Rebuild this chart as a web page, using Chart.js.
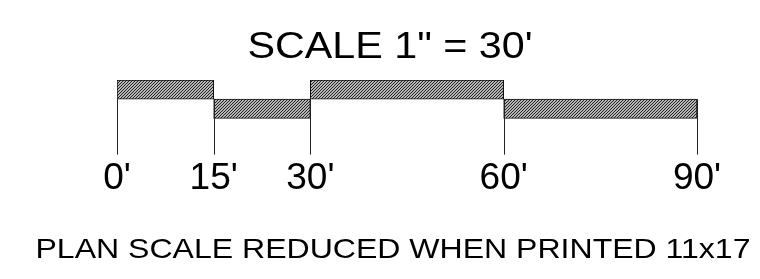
<!DOCTYPE html>
<html>
<head>
<meta charset="utf-8">
<script src="https://cdn.jsdelivr.net/npm/chart.js@4/dist/chart.umd.min.js"></script>
<style>
  html, body { margin: 0; padding: 0; background: #fff; overflow: hidden; }
  #wrap { position: relative; width: 760px; height: 279px; }
  .txt {
    position: absolute;
    font-family: 'Liberation Sans', Arial, sans-serif;
    line-height: 1;
    color: #000;
    white-space: nowrap;
  }
  #title { left: 390px; top: 28px; font-size: 36px; transform: translateX(-50%) scaleX(1.146); }
  #note { left: 393px; top: 234px; font-size: 28.5px; transform: translateX(-50%) scaleX(1.124); }
</style>
</head>
<body>
<div id="wrap">
  <canvas id="scale-bar"></canvas>
  <div id="title" class="txt"></div>
  <div id="note" class="txt"></div>
</div>
<script>
// scale bar rows (two bar rows, then empty room for the tick lines)
const rows = ['upper', 'lower', 'gap1', 'gap2'];
const upperSegments = [[0, 15], [30, 60]];
const lowerSegments = [[15, 30], [60, 90]];
const tickValues = [0, 15, 30, 60, 90];
const tickLabels = ["0'", "15'", "30'", "60'", "90'"];
const titleText = 'SCALE 1" = 30\'';
const noteText = 'PLAN SCALE REDUCED WHEN PRINTED 11x17';

document.getElementById('title').textContent = titleText;
document.getElementById('note').textContent = noteText;

// diagonal hatch fill
function makeHatch() {
    const c = document.createElement('canvas');
    c.width = 3;
    c.height = 3;
    const g = c.getContext('2d');
    g.fillStyle = '#fff';
    g.fillRect(0, 0, 3, 3);
    g.strokeStyle = '#1a1a1a';
    g.lineWidth = 1.2;
    g.beginPath();
    g.moveTo(-1, 4); g.lineTo(4, -1);
    g.moveTo(-1, 1); g.lineTo(1, -1);
    g.moveTo(2, 4); g.lineTo(4, 2);
    g.stroke();
    return g.createPattern(c, 'repeat');
}
const hatch = makeHatch();

function segmentData(segs, row) {
    return segs.map(s => ({ y: row, x: s }));
}

// vertical tick lines from the row boundary down to the bottom of the plot
const tickLines = {
    id: 'tickLines',
    afterDatasetsDraw(chart) {
        const ctx = chart.ctx;
        const xs = chart.scales.x;
        const ys = chart.scales.y;
        const top = (ys.getPixelForValue(0) + ys.getPixelForValue(1)) / 2;
        const bottom = chart.chartArea.bottom - 2;
        ctx.save();
        ctx.strokeStyle = '#222';
        ctx.lineWidth = 1;
        tickValues.forEach(v => {
            const px = Math.round(xs.getPixelForValue(v)) + 0.5;
            ctx.beginPath();
            ctx.moveTo(px, top);
            ctx.lineTo(px, bottom);
            ctx.stroke();
        });
        ctx.restore();
    }
};

new Chart(document.getElementById('scale-bar').getContext('2d'), {
    type: 'bar',
    data: {
        labels: rows,
        datasets: [
            {
                data: segmentData(upperSegments, 'upper').concat(segmentData(lowerSegments, 'lower')),
                backgroundColor: hatch,
                borderColor: '#111',
                borderWidth: 1,
                borderSkipped: false,
                barPercentage: 1,
                categoryPercentage: 1
            }
        ]
    },
    options: {
        indexAxis: 'y',
        responsive: true,
        maintainAspectRatio: false,
        animation: false,
        layout: { padding: { left: 117, right: 63, top: 80, bottom: 78 } },
        plugins: {
            legend: { display: false },
            tooltip: { enabled: false }
        },
        scales: {
            y: {
                display: false
            },
            x: {
                type: 'linear',
                min: 0,
                max: 90,
                border: { display: false },
                grid: {
                    display: false,
                    drawTicks: false
                },
                afterBuildTicks(axis) {
                    axis.ticks = tickValues.map(v => ({ value: v }));
                },
                ticks: {
                    autoSkip: false,
                    maxRotation: 0,
                    color: '#000',
                    padding: 0,
                    font: { family: 'Liberation Sans', size: 37 },
                    callback: (v, i) => tickLabels[i]
                }
            }
        }
    },
    plugins: [tickLines]
});
</script>
</body>
</html>
